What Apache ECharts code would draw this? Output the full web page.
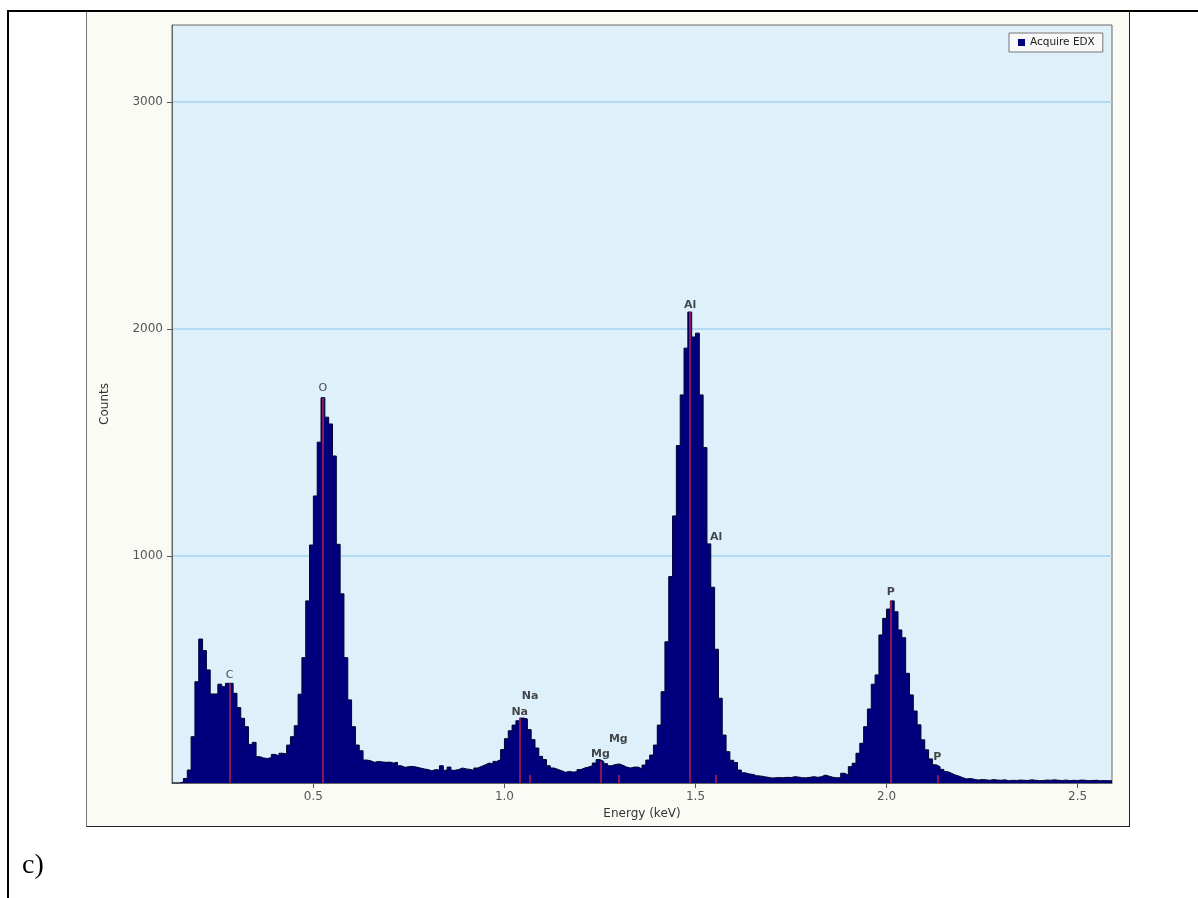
<!DOCTYPE html>
<html>
<head>
<meta charset="utf-8">
<title>EDX spectrum</title>
<script src="https://cdn.jsdelivr.net/npm/echarts@6/dist/echarts.min.js"></script>
<style>
  html, body { margin: 0; padding: 0; background: #ffffff; }
  #page { position: relative; width: 1198px; height: 898px; overflow: hidden; background: #ffffff; }
  #frameLeft { position: absolute; left: 7px; top: 10px; width: 2px; height: 888px; background: #000; }
  #frameTop { position: absolute; left: 7px; top: 10px; width: 1191px; height: 2px; background: #000; }
  #panel { position: absolute; left: 86px; top: 10px; width: 1042px; height: 816px;
           background: #fbfbf5; border-left: 1px solid #777; border-right: 1px solid #222; border-bottom: 1px solid #222; }
  #chart { position: absolute; left: 0; top: 0; width: 1198px; height: 898px; }
  #caption { position: absolute; left: 22px; top: 848px; font-family: "Liberation Serif", serif; font-size: 28px; color: #000; }
</style>
</head>
<body>
<div id="page">
  <div id="panel"></div>
  <div id="frameTop"></div>
  <div id="frameLeft"></div>
  <div id="chart"></div>
  <div id="caption">c)</div>
</div>
<script>
// Spectrum channels: 10 eV wide, first channel starts at 0.13 keV
const channelStart = 0.13;
const channelWidth = 0.01;

// Counts per channel, 0.13 - 0.63 keV (C and O region)
const countsLow = [
  0, 0, 5, 20, 57, 204, 446, 634, 583, 498,
  392, 392, 435, 424, 439, 439, 395, 332, 285, 248,
  170, 179, 116, 110, 108, 112, 126, 120, 131, 128,
  167, 204, 252, 391, 552, 802, 1048, 1264, 1501, 1697,
  1611, 1581, 1440, 1051, 833, 552, 366, 248, 167, 142,
  101
];
// 0.64 - 1.34 keV (Na and Mg region)
const countsMid = [
  98, 91, 95, 93, 91, 92, 88, 91, 76, 69,
  72, 73, 70, 66, 62, 59, 54, 59, 57, 76,
  56, 70, 56, 59, 66, 62, 60, 56, 66, 73,
  80, 88, 84, 95, 103, 147, 195, 230, 255, 274,
  286, 282, 235, 191, 154, 117, 103, 76, 66, 60,
  54, 47, 51, 48, 50, 59, 66, 70, 76, 88,
  103, 95, 85, 76, 81, 84, 78, 70, 66, 70,
  70
];
// 1.35 - 1.66 keV (Al region)
const countsAl = [
  62, 79, 101, 123, 167, 255, 402, 622, 909, 1176,
  1486, 1709, 1915, 2074, 1964, 1981, 1709, 1477, 1053, 862,
  589, 373, 211, 138, 100, 90, 57, 45, 40, 38,
  32, 31
];
// 1.67 - 2.58 keV (P region and tail)
const countsHigh = [
  28, 25, 22, 23, 24, 23, 25, 24, 28, 26,
  23, 23, 25, 28, 25, 28, 35, 30, 25, 23,
  23, 43, 35, 72, 87, 131, 175, 248, 326, 435,
  476, 652, 725, 766, 802, 754, 674, 640, 483, 388,
  317, 256, 190, 146, 106, 80, 72, 60, 50, 43,
  35, 30, 23, 18, 20, 16, 13, 15, 14, 12,
  15, 13, 12, 14, 10, 12, 11, 13, 12, 11,
  14, 12, 10, 11, 13, 12, 14, 12, 11, 13,
  10, 12, 11, 13, 12, 10, 11, 12, 10, 11,
  10, 10
];

// Axis ticks
const energyTicks = [0.5, 1.0, 1.5, 2.0, 2.5];
const countTicks = [1000, 2000, 3000];

// Element line identifications (energy in keV, label height in counts)
const lineNames    = ['C', 'O', 'Na', 'Na', 'Mg', 'Mg', 'Al', 'Al', 'P', 'P'];
const lineEnergies = [0.281, 0.525, 1.040, 1.067, 1.251, 1.298, 1.486, 1.554, 2.011, 2.133];
const lineIsMajor  = [true, true, true, false, true, false, true, false, true, false];
const labelCounts  = [476, 1740, 314, 381, 128, 194, 2105, 1084, 839, 114];
const minorMarkCounts = 35;

const counts = [].concat(countsLow, countsMid, countsAl, countsHigh);

// Step outline: each point opens its channel, a closing point ends the last one
const stepData = counts.map((c, i) => [+(channelStart + i * channelWidth).toFixed(3), c]);
stepData.push([+(channelStart + counts.length * channelWidth).toFixed(3), counts[counts.length - 1]]);

function countAt(energy) {
  const idx = Math.floor((energy - channelStart) / channelWidth + 1e-9);
  return counts[Math.max(0, Math.min(counts.length - 1, idx))];
}

const markLines = lineEnergies.map((e, i) => [
  { coord: [e, 0] },
  { coord: [e, lineIsMajor[i] ? countAt(e) : minorMarkCounts] }
]);

const labelData = lineEnergies.map((e, i) => ({
  name: lineNames[i],
  value: [e, labelCounts[i]],
  label: { fontWeight: (lineNames[i] === 'C' || lineNames[i] === 'O') ? 'normal' : 'bold' }
}));

const font = '"DejaVu Sans", Verdana, sans-serif';

const chart = echarts.init(document.getElementById('chart'), null, { renderer: 'canvas' });
chart.setOption({
  animation: false,
  backgroundColor: 'transparent',
  grid: {
    left: 172, top: 25, width: 940, height: 758,
    show: true, backgroundColor: '#def0fa', borderColor: '#666', borderWidth: 1
  },
  legend: {
    data: [{ name: 'Acquire EDX', icon: 'rect' }],
    left: 1009, top: 33,
    padding: [3, 8, 3, 9],
    itemWidth: 7, itemHeight: 7,
    backgroundColor: '#f8f8f8', borderColor: '#777', borderWidth: 1,
    textStyle: { fontFamily: font, fontSize: 10.5, color: '#222', lineHeight: 13 }
  },
  xAxis: {
    type: 'value', min: 0.13, max: 2.59,
    name: 'Energy (keV)', nameLocation: 'middle', nameGap: 25,
    nameTextStyle: { fontFamily: font, fontSize: 12, color: '#333' },
    axisLine: { show: true, lineStyle: { color: '#666' } },
    axisTick: { show: true, inside: false, length: 5, customValues: energyTicks, lineStyle: { color: '#555' } },
    axisLabel: { customValues: energyTicks, formatter: v => v.toFixed(1), margin: 8,
                 fontFamily: font, fontSize: 12, color: '#555' },
    splitLine: { show: false }
  },
  yAxis: {
    type: 'value', min: 0, max: 3338, interval: 1000,
    name: 'Counts', nameLocation: 'middle', nameGap: 61, nameRotate: 90,
    nameTextStyle: { fontFamily: font, fontSize: 12, color: '#333' },
    axisLine: { show: true, lineStyle: { color: '#666' } },
    axisTick: { show: true, inside: false, length: 5, customValues: countTicks, lineStyle: { color: '#555' } },
    axisLabel: { customValues: countTicks, formatter: v => String(Math.round(v)), margin: 9,
                 fontFamily: font, fontSize: 12, color: '#555' },
    splitLine: { show: true, lineStyle: { color: '#a3d5ee', width: 1.5 } }
  },
  series: [
    {
      name: 'Acquire EDX',
      type: 'line',
      step: 'end',
      data: stepData,
      symbol: 'none',
      itemStyle: { color: '#00007c' },
      lineStyle: { color: '#000030', width: 1 },
      areaStyle: { color: '#00007c', opacity: 1 },
      markLine: {
        silent: true,
        symbol: ['none', 'none'],
        label: { show: false },
        lineStyle: { color: 'rgba(225, 40, 70, 0.6)', width: 2, type: 'solid' },
        data: markLines
      }
    },
    {
      name: 'lines',
      type: 'scatter',
      data: labelData,
      symbolSize: 1,
      itemStyle: { color: 'transparent' },
      silent: true,
      label: {
        show: true, position: 'inside', formatter: '{b}',
        fontFamily: font, fontSize: 11, color: '#1a1a1a'
      },
      z: 5
    }
  ]
});
</script>
</body>
</html>
